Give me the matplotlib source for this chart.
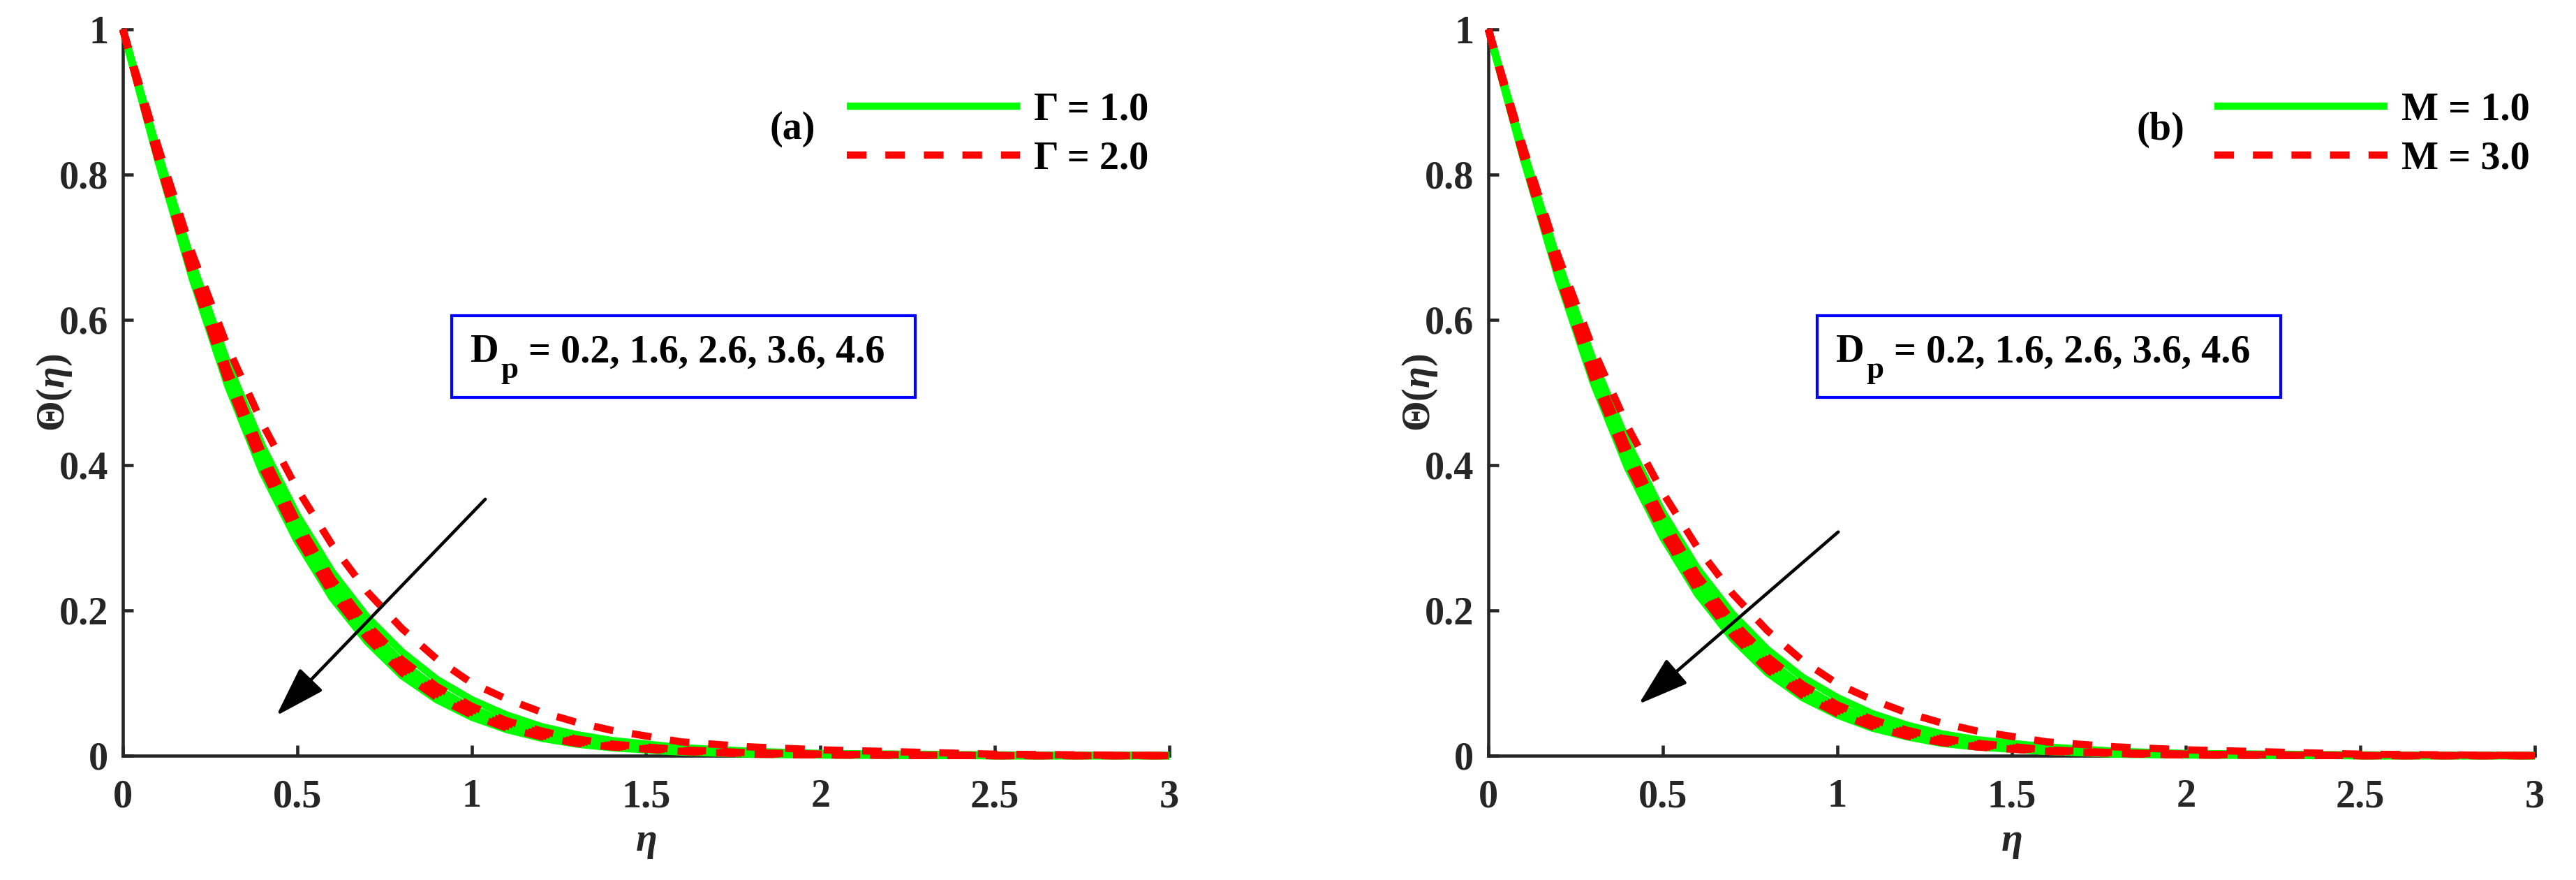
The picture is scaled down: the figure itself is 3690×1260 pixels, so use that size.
import matplotlib
matplotlib.use('Agg')
import matplotlib.pyplot as plt
from matplotlib.patches import Rectangle

plt.rcParams['font.family'] = ['Liberation Serif', 'DejaVu Serif']
plt.rcParams['font.weight'] = 'bold'
plt.rcParams['mathtext.fontset'] = 'custom'
plt.rcParams['mathtext.rm'] = 'Liberation Serif:bold'
plt.rcParams['mathtext.it'] = 'Liberation Serif:italic:bold'
plt.rcParams['mathtext.bf'] = 'Liberation Serif:bold'

# ---------------- data ----------------
eta = [0, 0.1, 0.2, 0.3, 0.4, 0.5, 0.6, 0.7, 0.8, 0.9, 1.0, 1.1, 1.2, 1.3, 1.4, 1.6, 1.8, 2.0, 2.5, 3.0]
dp_values = ['0.2', '1.6', '2.6', '3.6', '4.6']

# Panel (a): Gamma = 1.0 (solid green), Gamma = 2.0 (dashed red); rows: Dp = 0.2, 1.6, 2.6, 3.6, 4.6
theta_a_gamma1 = [
    [1, 0.832, 0.677, 0.541, 0.426, 0.331, 0.253, 0.191, 0.143, 0.105, 0.077, 0.056, 0.040, 0.029, 0.021, 0.011, 0.006, 0.003, 0.001, 0.000],
    [1, 0.826, 0.667, 0.528, 0.411, 0.316, 0.238, 0.177, 0.128, 0.092, 0.065, 0.046, 0.032, 0.022, 0.015, 0.008, 0.004, 0.002, 0.000, 0.000],
    [1, 0.824, 0.663, 0.522, 0.404, 0.309, 0.231, 0.170, 0.122, 0.087, 0.061, 0.042, 0.029, 0.020, 0.014, 0.007, 0.003, 0.002, 0.000, 0.000],
    [1, 0.822, 0.659, 0.516, 0.397, 0.302, 0.224, 0.164, 0.116, 0.082, 0.057, 0.039, 0.027, 0.018, 0.012, 0.006, 0.003, 0.001, 0.000, 0.000],
    [1, 0.820, 0.655, 0.510, 0.390, 0.295, 0.217, 0.157, 0.110, 0.077, 0.053, 0.036, 0.024, 0.016, 0.011, 0.005, 0.002, 0.001, 0.000, 0.000],
]
theta_a_gamma2 = [
    [1, 0.840, 0.690, 0.563, 0.457, 0.367, 0.290, 0.226, 0.175, 0.133, 0.100, 0.078, 0.060, 0.046, 0.035, 0.019, 0.012, 0.008, 0.002, 0.000],
    [1, 0.828, 0.671, 0.533, 0.417, 0.322, 0.243, 0.181, 0.132, 0.095, 0.068, 0.048, 0.034, 0.023, 0.016, 0.008, 0.004, 0.002, 0.000, 0.000],
    [1, 0.826, 0.667, 0.527, 0.410, 0.315, 0.236, 0.175, 0.126, 0.090, 0.064, 0.045, 0.031, 0.021, 0.014, 0.007, 0.003, 0.002, 0.000, 0.000],
    [1, 0.824, 0.663, 0.521, 0.403, 0.308, 0.229, 0.168, 0.120, 0.085, 0.060, 0.041, 0.028, 0.019, 0.013, 0.006, 0.003, 0.001, 0.000, 0.000],
    [1, 0.822, 0.659, 0.515, 0.396, 0.301, 0.222, 0.162, 0.114, 0.080, 0.056, 0.038, 0.026, 0.017, 0.012, 0.006, 0.002, 0.001, 0.000, 0.000],
]

# Panel (b): M = 1.0 (solid green), M = 3.0 (dashed red)
theta_b_m1 = [
    [1, 0.834, 0.680, 0.545, 0.430, 0.335, 0.257, 0.195, 0.146, 0.108, 0.080, 0.058, 0.042, 0.030, 0.022, 0.012, 0.006, 0.003, 0.001, 0.000],
    [1, 0.828, 0.670, 0.532, 0.416, 0.321, 0.243, 0.181, 0.132, 0.095, 0.068, 0.048, 0.033, 0.023, 0.016, 0.008, 0.004, 0.002, 0.000, 0.000],
    [1, 0.826, 0.666, 0.526, 0.409, 0.314, 0.236, 0.174, 0.126, 0.090, 0.064, 0.044, 0.031, 0.021, 0.014, 0.007, 0.003, 0.002, 0.000, 0.000],
    [1, 0.824, 0.662, 0.520, 0.402, 0.307, 0.229, 0.168, 0.120, 0.085, 0.060, 0.041, 0.028, 0.019, 0.013, 0.006, 0.003, 0.001, 0.000, 0.000],
    [1, 0.822, 0.658, 0.514, 0.395, 0.300, 0.222, 0.161, 0.114, 0.080, 0.056, 0.038, 0.026, 0.017, 0.012, 0.006, 0.002, 0.001, 0.000, 0.000],
]
theta_b_m3 = [
    [1, 0.838, 0.688, 0.560, 0.452, 0.362, 0.286, 0.223, 0.172, 0.131, 0.099, 0.077, 0.059, 0.045, 0.034, 0.019, 0.012, 0.008, 0.002, 0.000],
    [1, 0.830, 0.674, 0.537, 0.422, 0.327, 0.248, 0.185, 0.136, 0.098, 0.070, 0.050, 0.035, 0.024, 0.017, 0.008, 0.004, 0.002, 0.000, 0.000],
    [1, 0.828, 0.670, 0.531, 0.415, 0.320, 0.241, 0.179, 0.130, 0.093, 0.066, 0.046, 0.032, 0.022, 0.015, 0.007, 0.003, 0.002, 0.000, 0.000],
    [1, 0.826, 0.666, 0.525, 0.408, 0.313, 0.234, 0.172, 0.124, 0.088, 0.062, 0.043, 0.030, 0.020, 0.013, 0.007, 0.003, 0.001, 0.000, 0.000],
    [1, 0.824, 0.662, 0.519, 0.401, 0.306, 0.227, 0.166, 0.118, 0.083, 0.058, 0.040, 0.027, 0.018, 0.012, 0.006, 0.003, 0.001, 0.000, 0.000],
]

xticks = [0, 0.5, 1, 1.5, 2, 2.5, 3]
xticklabels = ['0', '0.5', '1', '1.5', '2', '2.5', '3']
yticks = [0, 0.2, 0.4, 0.6, 0.8, 1]
yticklabels = ['0', '0.2', '0.4', '0.6', '0.8', '1']

panels = [
    dict(solid=theta_a_gamma1, dashed=theta_a_gamma2, labels=['\u0393 = 1.0', '\u0393 = 2.0'], tag='(a)',
         arrow_from=(1.039, 0.353), arrow_to=(0.440, 0.055), tag_x=1.919),
    dict(solid=theta_b_m1, dashed=theta_b_m3, labels=['M = 1.0', 'M = 3.0'], tag='(b)',
         arrow_from=(1.003, 0.308), arrow_to=(0.431, 0.071), tag_x=1.927),
]

# ---------------- figure ----------------
FS = 13.5
AXC = '#262626'
fig = plt.figure(figsize=(12.3, 4.2), dpi=300)
ax_rects = [[0.0477, 0.1413, 0.4062, 0.8254], [0.5778, 0.1413, 0.4062, 0.8254]]
legend_x = [0.692, 0.694]

for rect, p, lx in zip(ax_rects, panels, legend_x):
    ax = fig.add_axes(rect)
    lw = 2.5
    gh = rh = None
    for curve in p['solid']:
        gh, = ax.plot(eta, curve, color='#00FF00', lw=lw, solid_capstyle='butt', clip_on=False, zorder=3)
    for curve in p['dashed']:
        rh, = ax.plot(eta, curve, color='#FF0000', lw=lw, linestyle=(0, (2.7, 2.6)),
                      dash_capstyle='butt', clip_on=False, zorder=4)

    ax.set_xlim(0, 3)
    ax.set_ylim(0, 1)
    ax.set_xticks(xticks)
    ax.set_xticklabels(xticklabels)
    ax.set_yticks(yticks)
    ax.set_yticklabels(yticklabels)
    for s in ['top', 'right']:
        ax.spines[s].set_visible(False)
    for s in ['left', 'bottom']:
        ax.spines[s].set_color(AXC)
        ax.spines[s].set_linewidth(1.1)
    ax.tick_params(axis='both', direction='in', length=3.6, width=1.1, color=AXC,
                   labelcolor=AXC, labelsize=FS)
    ax.tick_params(axis='x', pad=8)
    ax.tick_params(axis='y', pad=5)
    for t in ax.get_xticklabels() + ax.get_yticklabels():
        t.set_fontweight('bold')

    ax.set_xlabel(r'$\eta$', fontsize=FS, color=AXC, labelpad=3)
    ax.set_ylabel(r'$\Theta(\eta)$', fontsize=FS, color=AXC, labelpad=-5)

    leg = ax.legend([gh, rh], p['labels'], loc='center left', bbox_to_anchor=(lx, 0.855),
                    frameon=False, handlelength=4.4, handletextpad=0.36, labelspacing=0.32,
                    borderpad=0, borderaxespad=0, prop={'size': FS, 'weight': 'bold'})
    ax.text(p['tag_x'], 0.862, p['tag'], fontsize=FS, fontweight='bold', ha='center', va='center')

    # text box
    ax.add_patch(Rectangle((0.943, 0.493), 1.328, 0.113, facecolor='white', edgecolor='#0000FF',
                           lw=1.0, zorder=5))
    tD = ax.text(0.997, 0.542, 'D', fontsize=FS, fontweight='bold', ha='left', va='baseline', zorder=6)
    tp = ax.annotate('p', xy=(1, 0), xycoords=tD, xytext=(0.6, -4.8), textcoords='offset points',
                     fontsize=FS * 0.8, fontweight='bold', ha='left', va='bottom', zorder=6)
    ax.annotate('= ' + ', '.join(dp_values), xy=(1, 0), xycoords=(tp, tD), xytext=(3.5, 0),
                textcoords='offset points', fontsize=FS, fontweight='bold', ha='left', va='bottom',
                zorder=6)

    ax.annotate('', xy=p['arrow_to'], xytext=p['arrow_from'],
                arrowprops=dict(arrowstyle='-|>,head_length=0.75,head_width=0.24', color='k',
                                lw=1.1, shrinkA=0, shrinkB=0, mutation_scale=20), zorder=6)

fig.savefig('out.png', dpi=300)
